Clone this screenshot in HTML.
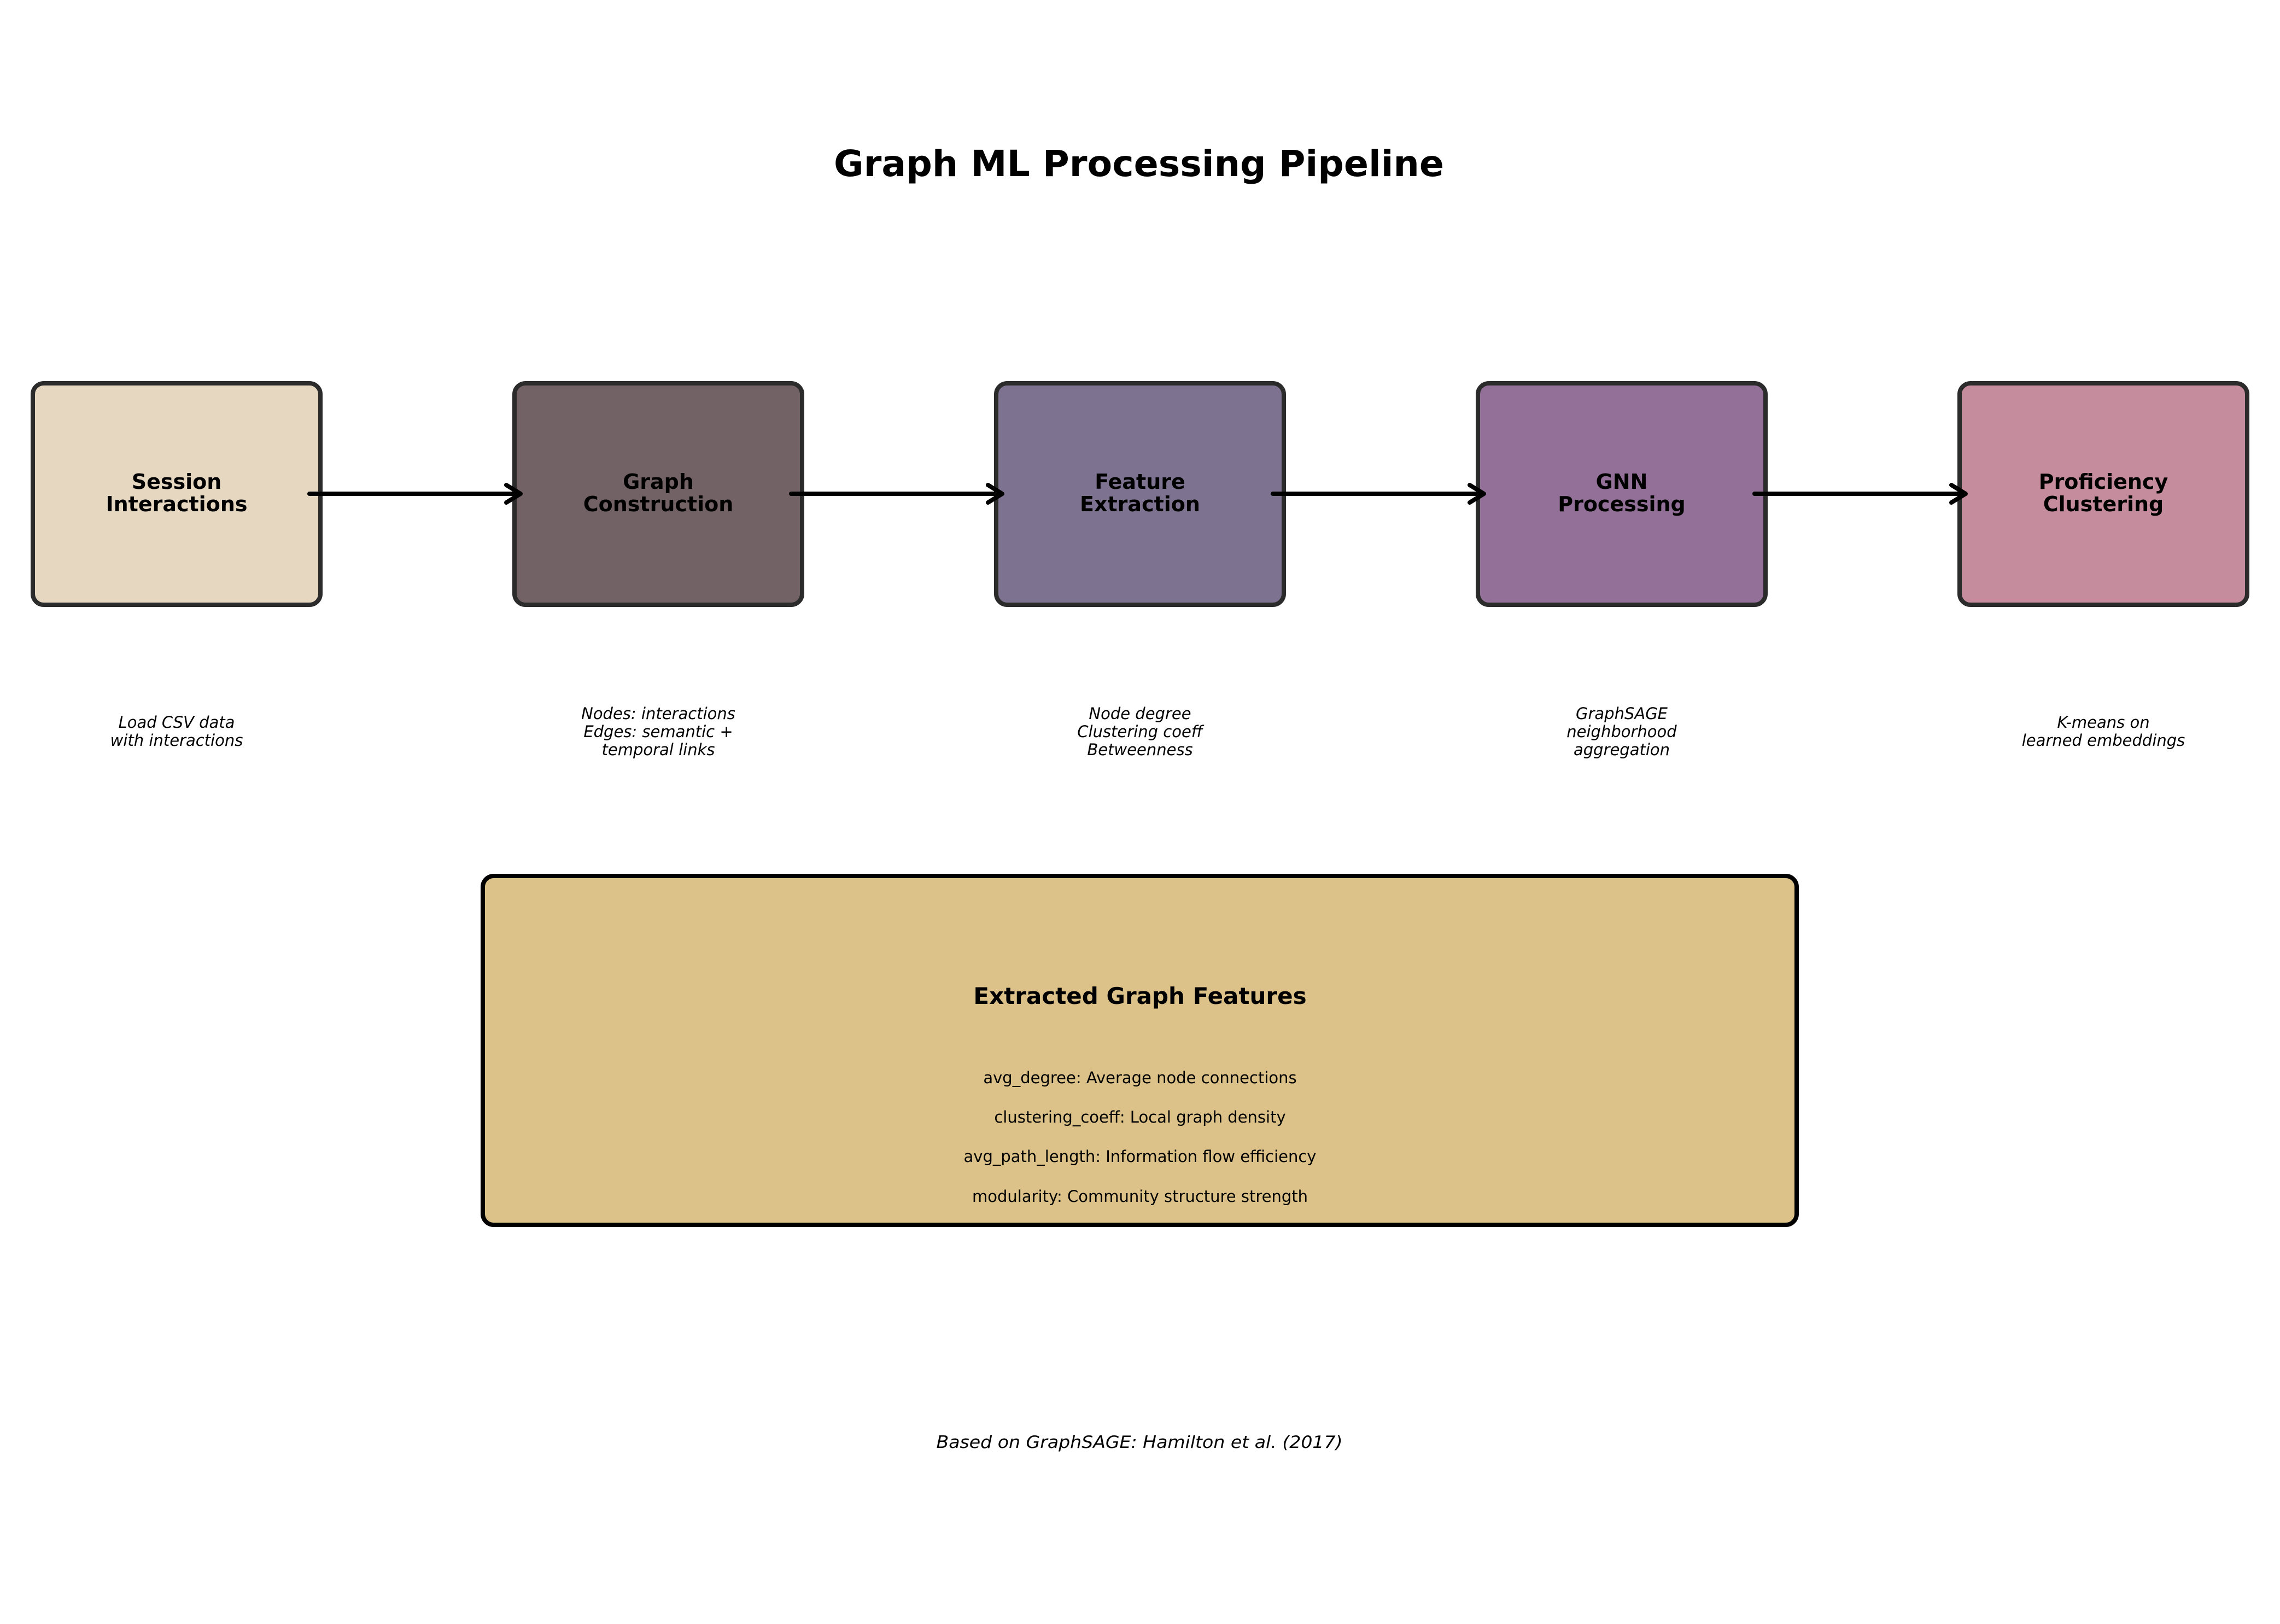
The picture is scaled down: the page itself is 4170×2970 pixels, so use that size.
<!DOCTYPE html>
<html><head><meta charset="utf-8"><style>
html,body{margin:0;padding:0;background:#fff;}
svg{display:block;}
text{font-family:"DejaVu Sans","Liberation Sans",sans-serif;}
</style></head><body>
<svg width="4170" height="2970" viewBox="0 0 4170 2970" xmlns="http://www.w3.org/2000/svg">
<rect width="4170" height="2970" fill="#fff"/>
<text x="2083" y="322" text-anchor="middle" font-size="66" font-weight="bold" textLength="1116" lengthAdjust="spacingAndGlyphs">Graph ML Processing Pipeline</text>

<g stroke="#2b2b2b" stroke-width="8">
<rect x="60" y="701" width="526" height="405" rx="20" fill="#e6d7c0"/>
<rect x="941" y="701" width="526" height="405" rx="20" fill="#726265"/>
<rect x="1822" y="701" width="526" height="405" rx="20" fill="#7d728f"/>
<rect x="2703" y="701" width="526" height="405" rx="20" fill="#937097"/>
<rect x="3584" y="701" width="526" height="405" rx="20" fill="#c58c9d"/>
</g>

<g stroke="#000" stroke-width="8" stroke-linecap="round" fill="none" stroke-linejoin="round">
<line x1="566" y1="903" x2="950" y2="903"/><polyline points="926,887 952,903 926,919"/>
<line x1="1447" y1="903" x2="1831" y2="903"/><polyline points="1807,887 1833,903 1807,919"/>
<line x1="2328" y1="903" x2="2712" y2="903"/><polyline points="2688,887 2714,903 2688,919"/>
<line x1="3209" y1="903" x2="3593" y2="903"/><polyline points="3569,887 3595,903 3569,919"/>
</g>

<g font-size="38" font-weight="bold" text-anchor="middle" fill="#000">
<text x="323" y="894">Session</text><text x="323" y="935">Interactions</text>
<text x="1204" y="894">Graph</text><text x="1204" y="935">Construction</text>
<text x="2085" y="894">Feature</text><text x="2085" y="935">Extraction</text>
<text x="2966" y="894">GNN</text><text x="2966" y="935">Processing</text>
<text x="3847" y="894">Proficiency</text><text x="3847" y="935">Clustering</text>
</g>

<g font-size="29" font-style="italic" text-anchor="middle" fill="#000">
<text x="323" y="1331">Load CSV data</text><text x="323" y="1364">with interactions</text>
<text x="1204" y="1315">Nodes: interactions</text><text x="1204" y="1348">Edges: semantic +</text><text x="1204" y="1381">temporal links</text>
<text x="2085" y="1315">Node degree</text><text x="2085" y="1348">Clustering coeff</text><text x="2085" y="1381">Betweenness</text>
<text x="2966" y="1315">GraphSAGE</text><text x="2966" y="1348">neighborhood</text><text x="2966" y="1381">aggregation</text>
<text x="3847" y="1331">K-means on</text><text x="3847" y="1364">learned embeddings</text>
</g>

<rect x="883" y="1602" width="2403" height="638" rx="20" fill="#dcc288" stroke="#000" stroke-width="8"/>
<text x="2085" y="1836" text-anchor="middle" font-size="42" font-weight="bold">Extracted Graph Features</text>
<g font-size="29" text-anchor="middle">
<text x="2085" y="1981">avg_degree: Average node connections</text>
<text x="2085" y="2053">clustering_coeff: Local graph density</text>
<text x="2085" y="2125">avg_path_length: Information flow efficiency</text>
<text x="2085" y="2198">modularity: Community structure strength</text>
</g>

<text x="2084" y="2648" text-anchor="middle" font-size="31" font-style="italic" textLength="743" lengthAdjust="spacingAndGlyphs">Based on GraphSAGE: Hamilton et al. (2017)</text>
</svg>
</body></html>
